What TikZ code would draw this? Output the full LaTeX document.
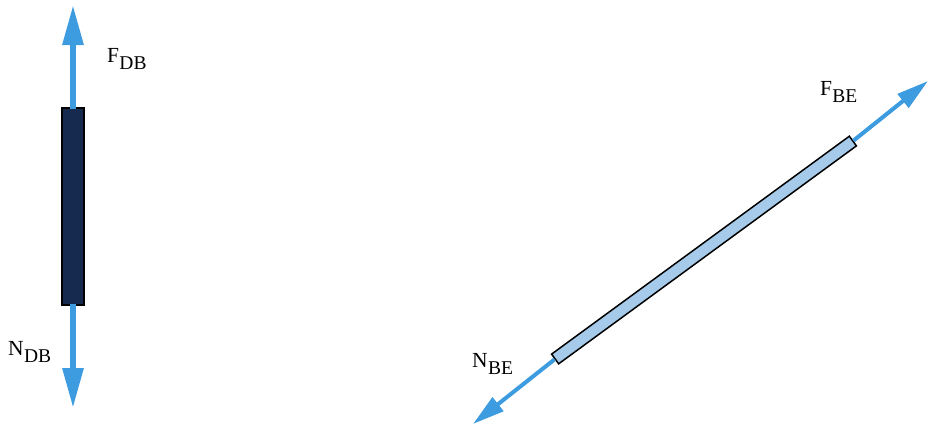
\documentclass[tikz,border=0pt]{standalone}
\usepackage{fontspec}
\setmainfont{Liberation Serif}
\usetikzlibrary{arrows.meta}
\definecolor{arrowblue}{HTML}{3D9BE0}
\definecolor{navybar}{HTML}{152A4E}
\definecolor{lightbar}{HTML}{A6CBEA}
\newcommand{\flabel}[2]{\raisebox{7pt}{\fontsize{21.5}{25}\selectfont #1}\kern0.3pt{\fontsize{19.5}{23}\selectfont #2}}
\begin{document}
\begin{tikzpicture}[x=1pt,y=-1pt,
  force/.style={draw=arrowblue, line width=6pt, -{Triangle[width=20pt,length=40pt]}},
  forcesm/.style={draw=arrowblue, line width=4pt, -{Triangle[width=17pt,length=32pt]}},
  lbl/.style={inner sep=0pt, anchor=base west}]
\useasboundingbox (0,0) rectangle (929,426);
% left member
\node[draw=black, line width=1.5pt, fill=navybar, minimum width=22pt, minimum height=197pt, inner sep=0pt] (bar1) at (73,206.5) {};
\coordinate (top1) at (73,5);
\coordinate (bot1) at (73,408);
\draw[force] ([yshift=-2pt]bar1.north) -- (top1);
\draw[force] ([yshift=2pt]bar1.south) -- (bot1);
\node[lbl] (fdb) at (107,69) {\flabel{F}{DB}};
\node[lbl] (ndb) at (8,362) {\flabel{N}{DB}};
% right member
\node[draw=black, line width=1.5pt, fill=lightbar, minimum width=369pt, minimum height=12pt, inner sep=0pt, rotate=36.2] (bar2) at (704,250) {};
\coordinate (top2) at (928,81);
\coordinate (bot2) at (473,424);
\draw[forcesm] (bar2.east) -- (top2);
\draw[forcesm] (bar2.west) -- (bot2);
\node[lbl] (fbe) at (820,102) {\flabel{F}{BE}};
\node[lbl] (nbe) at (472,374) {\flabel{N}{BE}};
\end{tikzpicture}
\end{document}
